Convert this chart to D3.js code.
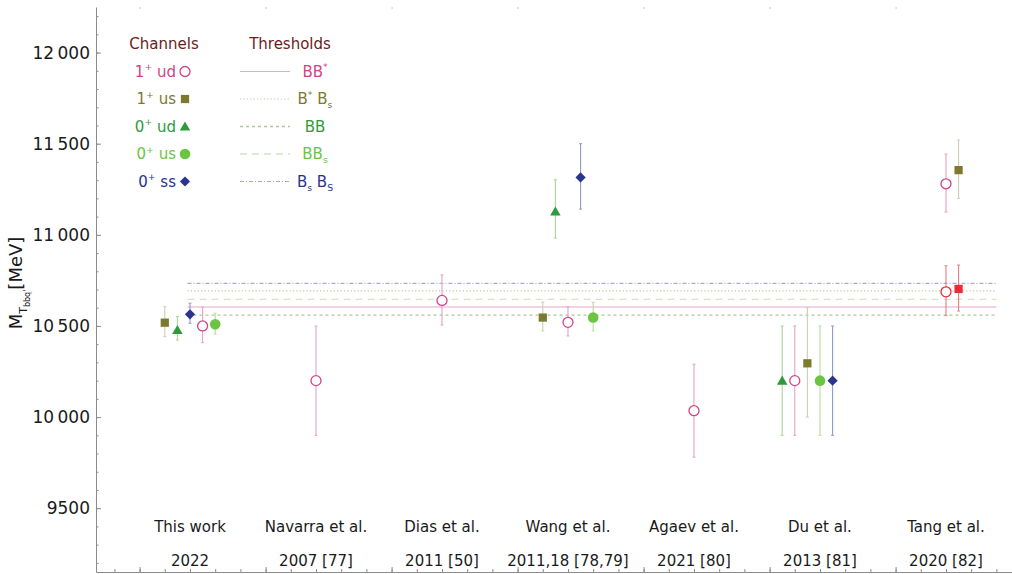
<!DOCTYPE html>
<html>
<head>
<meta charset="utf-8">
<script src="https://cdn.jsdelivr.net/npm/d3@7"></script>
<style>
  body { margin: 0; background: #fff; }
  svg { display: block; }
  text { font-family: "DejaVu Sans", sans-serif; }
</style>
</head>
<body>
<svg id="chart" width="1012" height="574"></svg>
<script>
// ---- data ---------------------------------------------------------------
const categories = ["This work", "Navarra et al.", "Dias et al.", "Wang et al.",
                    "Agaev et al.", "Du et al.", "Tang et al."];
const references = ["2022", "2007 [77]", "2011 [50]", "2011,18 [78,79]",
                    "2021 [80]", "2013 [81]", "2020 [82]"];
const yTickValues = [9500, 10000, 10500, 11000, 11500, 12000];

// mass m with error-bar ends lo / hi (MeV); cat = index into categories
const ud1 = [ // 1+ ud
  { cat: 0, m: 10500, lo: 10408, hi: 10603 },
  { cat: 1, m: 10200, lo: 9900,  hi: 10500 },
  { cat: 2, m: 10640, lo: 10505, hi: 10780 },
  { cat: 3, m: 10520, lo: 10445, hi: 10606 },
  { cat: 4, m: 10035, lo: 9780,  hi: 10290 },
  { cat: 5, m: 10200, lo: 9900,  hi: 10500 },
  { cat: 6, m: 11280, lo: 11125, hi: 11443 }
];
const us1 = [ // 1+ us
  { cat: 0, m: 10518, lo: 10441, hi: 10606 },
  { cat: 3, m: 10546, lo: 10473, hi: 10630 },
  { cat: 5, m: 10295, lo: 10000, hi: 10600 },
  { cat: 6, m: 11355, lo: 11200, hi: 11520 }
];
const ud0 = [ // 0+ ud
  { cat: 0, m: 10478, lo: 10423, hi: 10551 },
  { cat: 3, m: 11128, lo: 10982, hi: 11302 },
  { cat: 5, m: 10200, lo: 9900,  hi: 10500 }
];
const us0 = [ // 0+ us
  { cat: 0, m: 10509, lo: 10456, hi: 10570 },
  { cat: 3, m: 10546, lo: 10473, hi: 10630 },
  { cat: 5, m: 10200, lo: 9900,  hi: 10500 }
];
const ss0 = [ // 0+ ss
  { cat: 0, m: 10564, lo: 10515, hi: 10625 },
  { cat: 3, m: 11315, lo: 11141, hi: 11500 },
  { cat: 5, m: 10200, lo: 9900,  hi: 10500 }
];
// second Tang et al. set (1+ ud and 1+ us)
const tangSecond = [
  { cat: 6, key: "ud1", m: 10687, lo: 10557, hi: 10830 },
  { cat: 6, key: "us1", m: 10703, lo: 10582, hi: 10834 }
];

const thresholdNames  = ["BB*", "B*Bs", "BB", "BBs", "BsBs"];
const thresholdValues = [10604, 10692, 10559, 10646, 10734];

// ---- layout / styling -----------------------------------------------------
// horizontal dodge per channel and category, in steps of 0.1 category width
const dodge = {
  ud1: [1, 0, 0, 0, 0, -2, 0],
  us1: [-2, 0, 0, -2, 0, -1, 1],
  ud0: [-1, 0, 0, -1, 0, -3, 0],
  us0: [2, 0, 0, 2, 0, 0, 0],
  ss0: [0, 0, 0, 1, 0, 1, 0]
};

const channels = [
  { key: "ud1", data: ud1, shape: "ring",    color: "#cf4589", bar: "#e6a0c5",
    label: [{ t: "1" }, { t: "+", sup: true }, { t: " ud" }] },
  { key: "us1", data: us1, shape: "square",  color: "#7d7a30", bar: "#cfcdb4",
    label: [{ t: "1" }, { t: "+", sup: true }, { t: " us" }] },
  { key: "ud0", data: ud0, shape: "triangle", color: "#2f9a3c", bar: "#aed19a",
    label: [{ t: "0" }, { t: "+", sup: true }, { t: " ud" }] },
  { key: "us0", data: us0, shape: "disc",    color: "#6cc443", bar: "#b7dc9f",
    label: [{ t: "0" }, { t: "+", sup: true }, { t: " us" }] },
  { key: "ss0", data: ss0, shape: "diamond", color: "#28348e", bar: "#9497cc",
    label: [{ t: "0" }, { t: "+", sup: true }, { t: " ss" }] }
];
const redColor = "#ec2a34", redBar = "#e77f86";

const thresholdStyles = [
  { color: "#e8a6c9", text: "#cf4589", dash: null,      width: 1.2,
    label: [{ t: "BB" }, { t: "*", sup: true }] },
  { color: "#c6c49a", text: "#7d7a30", dash: "1.2,2.2", width: 1.2,
    label: [{ t: "B" }, { t: "*", sup: true }, { t: " B" }, { t: "s", sub: true }] },
  { color: "#a9cb93", text: "#2f9a3c", dash: "3,3",     width: 1.3,
    label: [{ t: "BB" }] },
  { color: "#d2e6c2", text: "#6cc443", dash: "7,5",     width: 1.3,
    label: [{ t: "BB" }, { t: "s", sub: true }] },
  { color: "#a9aadb", text: "#28348e", dash: "4,2,1,2", width: 1.2,
    label: [{ t: "B" }, { t: "s", sub: true }, { t: " B" }, { t: "S", sub: true }] }
];

// ---- scales -------------------------------------------------------------
const svg = d3.select("#chart");
const x = d3.scaleLinear().domain([-0.746, 6.524]).range([96, 1012]);
const y = d3.scaleLinear().domain([9150, 12250]).range([572, 7]);
const px = (cat, k) => x(cat + 0.1 * k);

const axisColor = "#8c8c8c";

// ---- axes -----------------------------------------------------------------
const xMinor = d3.range(-3, 33).map(k => +(k * 0.2).toFixed(2));
const xMajor = d3.range(-2, 33, 5).map(k => +(k * 0.2).toFixed(2));

function styleAxis(g) {
  g.selectAll("path, line").attr("stroke", axisColor);
}

svg.append("g")
  .attr("transform", "translate(0,572)")
  .call(d3.axisBottom(x).tickValues(xMinor).tickSize(-3).tickSizeOuter(0).tickFormat(""))
  .call(styleAxis);
svg.append("g")
  .attr("transform", "translate(0,572)")
  .call(d3.axisBottom(x).tickValues(xMajor).tickSize(-5).tickSizeOuter(0).tickFormat(""))
  .call(g => g.select(".domain").remove())
  .call(styleAxis);
// short marks along the open top edge
svg.append("g")
  .attr("transform", "translate(0,7)")
  .call(d3.axisTop(x).tickValues(xMajor).tickSize(-2).tickFormat(""))
  .call(g => g.select(".domain").remove())
  .call(g => g.selectAll("line").attr("stroke", "#c8c8c8"));
// the empty tick label nodes are not needed
svg.selectAll(".tick text").filter(function () { return !this.textContent; }).remove();

const yMinor = d3.range(9200, 12201, 100);
svg.append("g")
  .attr("transform", "translate(96,0)")
  .call(d3.axisLeft(y).tickValues(yMinor).tickSize(-2.5).tickSizeOuter(0).tickFormat(""))
  .call(styleAxis)
  .call(g => g.selectAll(".tick text").remove());
svg.append("g")
  .attr("transform", "translate(96,0)")
  .call(d3.axisLeft(y).tickValues(yTickValues).tickSize(-5).tickSizeOuter(0).tickPadding(6)
        .tickFormat(d => d >= 10000 ? d3.format(",")(d).replace(",", "\u2009") : String(d)))
  .call(g => g.select(".domain").remove())
  .call(styleAxis)
  .call(g => g.selectAll("text").attr("font-size", 17).attr("fill", "#1a1a1a")
              .attr("font-family", "DejaVu Sans, sans-serif"));

// rich text helper: superscripts / subscripts through tspans
function rich(sel, parts, size) {
  let prev = 0;
  parts.forEach(p => {
    const sh = p.sup ? -0.42 * size : p.sub ? 0.28 * size : 0;
    sel.append("tspan")
      .attr("dy", sh - prev)
      .attr("font-size", (p.sup || p.sub) ? size * 0.62 : size)
      .text(p.t);
    prev = sh;
  });
}

// y-axis title
const yt = svg.append("text")
  .attr("transform", "translate(22,283) rotate(-90)")
  .attr("text-anchor", "middle")
  .attr("fill", "#1a1a1a");
yt.append("tspan").attr("font-size", 18).text("M");
yt.append("tspan").attr("font-size", 11).attr("dy", 5).text("T");
yt.append("tspan").attr("font-size", 8).attr("dy", 3).text("bbq'");
yt.append("tspan").attr("font-size", 18).attr("dy", -8).text("[MeV]");

// category labels
svg.append("g").selectAll("text").data(categories).join("text")
  .attr("x", (d, i) => x(i)).attr("y", 532)
  .attr("text-anchor", "middle").attr("font-size", 15).attr("fill", "#1a1a1a")
  .text(d => d);
svg.append("g").selectAll("text").data(references).join("text")
  .attr("x", (d, i) => x(i)).attr("y", 566)
  .attr("text-anchor", "middle").attr("font-size", 15).attr("fill", "#1a1a1a")
  .text(d => d);

// ---- threshold lines ------------------------------------------------------
svg.append("g").selectAll("line").data(thresholdValues).join("line")
  .attr("x1", x(-0.02)).attr("x2", x(6.4))
  .attr("y1", d => y(d)).attr("y2", d => y(d))
  .attr("stroke", (d, i) => thresholdStyles[i].color)
  .attr("stroke-width", (d, i) => thresholdStyles[i].width)
  .attr("stroke-dasharray", (d, i) => thresholdStyles[i].dash);

// ---- markers ------------------------------------------------------------
function drawMarker(g, shape, cx, cy, color) {
  if (shape === "ring") {
    g.append("circle").attr("cx", cx).attr("cy", cy).attr("r", 5)
      .attr("fill", "#fff").attr("stroke", color).attr("stroke-width", 1.3);
  } else if (shape === "disc") {
    g.append("circle").attr("cx", cx).attr("cy", cy).attr("r", 5.3).attr("fill", color);
  } else {
    const type = shape === "triangle" ? d3.symbolTriangle : d3.symbolSquare;
    const size = shape === "square" ? 68 : shape === "triangle" ? 48 : 52;
    const rot = shape === "diamond" ? 45 : 0;
    const dy = shape === "triangle" ? 1 : 0;
    g.append("path").attr("d", d3.symbol().type(type).size(size)())
      .attr("transform", `translate(${cx},${cy + dy}) rotate(${rot})`)
      .attr("fill", color);
  }
}

function drawError(g, cx, d, color) {
  g.append("line").attr("x1", cx).attr("x2", cx)
    .attr("y1", y(d.lo)).attr("y2", y(d.hi))
    .attr("stroke", color).attr("stroke-width", 1.1);
  [d.lo, d.hi].forEach(v => g.append("line")
    .attr("x1", cx - 1.5).attr("x2", cx + 1.5).attr("y1", y(v)).attr("y2", y(v))
    .attr("stroke", color).attr("stroke-width", 1));
}

const pts = svg.append("g");
channels.forEach(ch => {
  ch.data.forEach(d => {
    const cx = px(d.cat, dodge[ch.key][d.cat]);
    drawError(pts, cx, d, ch.bar);
  });
});
tangSecond.forEach(d => drawError(pts, px(d.cat, dodge[d.key][d.cat]), d, redBar));
channels.forEach(ch => {
  ch.data.forEach(d => {
    drawMarker(pts, ch.shape, px(d.cat, dodge[ch.key][d.cat]), y(d.m), ch.color);
  });
});
tangSecond.forEach(d => {
  const ch = channels.find(c => c.key === d.key);
  drawMarker(pts, ch.shape, px(d.cat, dodge[d.key][d.cat]), y(d.m), redColor);
});

// ---- legend -------------------------------------------------------------
const leg = svg.append("g");
const rowY = [71.5, 99, 126.5, 154, 181.5];
leg.append("text").attr("x", 164).attr("y", 49).attr("text-anchor", "middle")
  .attr("font-size", 15).attr("fill", "#6b1d1d").text("Channels");
leg.append("text").attr("x", 290).attr("y", 49).attr("text-anchor", "middle")
  .attr("font-size", 15).attr("fill", "#6b1d1d").text("Thresholds");

channels.forEach((ch, i) => {
  const t = leg.append("text").attr("x", 176).attr("y", rowY[i] + 5)
    .attr("text-anchor", "end").attr("fill", ch.color);
  rich(t, ch.label, 15);
  drawMarker(leg, ch.shape, 185, rowY[i], ch.color);
});
thresholdStyles.forEach((s, i) => {
  leg.append("line").attr("x1", 240).attr("x2", 290)
    .attr("y1", rowY[i]).attr("y2", rowY[i])
    .attr("stroke", s.color).attr("stroke-width", s.width)
    .attr("stroke-dasharray", s.dash);
  const t = leg.append("text").attr("x", 315).attr("y", rowY[i] + 5)
    .attr("text-anchor", "middle").attr("fill", s.text);
  rich(t, s.label, 15);
});
</script>
</body>
</html>
